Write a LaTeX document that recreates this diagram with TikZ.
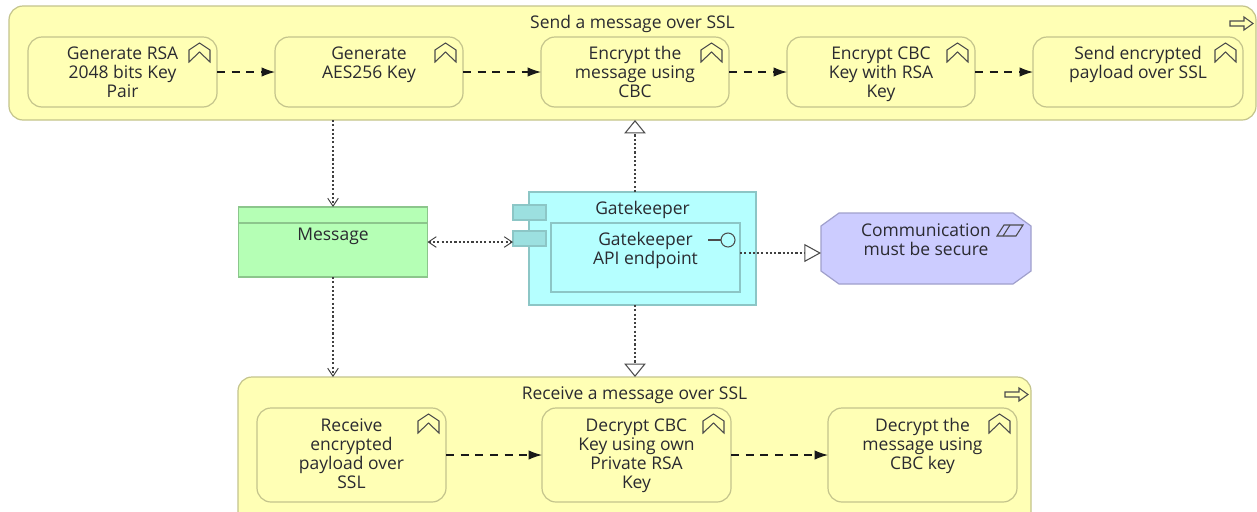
\documentclass[tikz,border=0pt]{standalone}
\usepackage{fontspec}
\setmainfont{Open Sans}
\usetikzlibrary{arrows.meta}
\definecolor{yfill}{HTML}{FFFFB5}
\definecolor{yline}{HTML}{C4C48C}
\definecolor{gfill}{HTML}{B5FFB5}
\definecolor{gline}{HTML}{8CC68C}
\definecolor{cfill}{HTML}{B5FFFF}
\definecolor{cline}{HTML}{8CC6C6}
\definecolor{tabfill}{HTML}{9CE0E0}
\definecolor{vfill}{HTML}{CCCCFF}
\definecolor{vline}{HTML}{A0A0CC}
\definecolor{ink}{HTML}{2A2A30}
\newcommand\lbl[4][16]{\parbox[c][\dimexpr #3pt*3/4\relax][t]{\dimexpr #2pt*3/4\relax}{\centering\fontsize{13.1pt}{14.25pt}\selectfont\color{ink}\rule{0pt}{\dimexpr (#1pt+6pt)*3/4\relax}#4\par}}
\tikzset{
  x=0.75pt,y=-0.75pt,
  base/.style={inner sep=0pt,outer sep=0pt,line width=0.9pt},
  outerbox/.style={base,draw=yline,fill=yfill,rounded corners=10.5pt},
  subbox/.style={base,draw=yline,fill=yfill,rounded corners=10.5pt},
  msgbox/.style={base,draw=gline,fill=gfill},
  compbox/.style={base,draw=cline,fill=cfill},
  tabbox/.style={base,draw=cline,fill=tabfill,minimum width=24.75pt,minimum height=11.25pt},
  textonly/.style={inner sep=0pt,outer sep=0pt},
  goalshape/.style={draw=vline,fill=vfill,line width=0.9pt},
  flow/.style={line width=0.85pt,draw=black!90,dash pattern=on 6pt off 5pt,-{Latex[length=10pt,width=7pt]}},
  dotline/.style={line width=0.8pt,draw=black!75,dash pattern=on 1.6pt off 1.6pt},
  barb/.style={dotline,-{Straight Barb[length=6pt,width=8pt,line width=0.7pt]}},
  barbboth/.style={dotline,{Straight Barb[length=6pt,width=8pt,line width=0.7pt]}-{Straight Barb[length=6pt,width=8pt,line width=0.7pt]}},
  tri/.style={dotline,-{Triangle[open,fill=white,length=10pt,width=16pt,line width=0.8pt,color=black!70]}},
  triside/.style={dotline,-{Triangle[open,fill=white,length=12.5pt,width=13.5pt,line width=0.8pt,color=black!70]}},
  icon/.style={draw=black!70,line width=0.8pt,fill=none,line join=miter},
  chev/.pic={\draw[icon] (-28,25) -- (-28,13) -- (-17.5,6) -- (-7,13) -- (-7,25) -- (-17.5,15) -- cycle;},
  procarrow/.pic={\draw[icon] (0,4) -- (14,4) -- (14,0) -- (23,6.5) -- (14,13) -- (14,9) -- (0,9) -- cycle;}
}
\begin{document}
\begin{tikzpicture}
\clip (0,0) rectangle (1257,511);
\fill[white] (0,0) rectangle (1257,511);
% top process
\node[outerbox] (send) at (632.5,63) {\lbl{1247}{114}{Send a message over SSL}};
\node[subbox] (s1) at (122.5,72) {\lbl{189}{70}{Generate RSA\\2048 bits Key\\Pair}};
\node[subbox] (s2) at (369,72) {\lbl{188}{70}{Generate\\AES256 Key}};
\node[subbox] (s3) at (635,72) {\lbl{188}{70}{Encrypt the\\message using\\CBC}};
\node[subbox] (s4) at (881,72) {\lbl{188}{70}{Encrypt CBC\\Key with RSA\\Key}};
\node[subbox] (s5) at (1138,72) {\lbl{210}{70}{Send encrypted\\payload over SSL}};
\foreach \n in {s1,s2,s3,s4,s5}{\pic at (\n.north east) {chev};}
\pic at (1230,17) {procarrow};
\draw[flow] (s1) -- (s2);
\draw[flow] (s2) -- (s3);
\draw[flow] (s3) -- (s4);
\draw[flow] (s4) -- (s5);
% bottom process
\node[outerbox] (recv) at (634.5,453.5) {\lbl{793}{153}{Receive a message over SSL}};
\node[subbox] (r1) at (351.5,455) {\lbl[17]{189}{94}{Receive\\encrypted\\payload over\\SSL}};
\node[subbox] (r2) at (636.5,455) {\lbl[17]{189}{94}{Decrypt CBC\\Key using own\\Private RSA\\Key}};
\node[subbox] (r3) at (922.5,455) {\lbl[17]{189}{94}{Decrypt the\\message using\\CBC key}};
\foreach \n in {r1,r2,r3}{\pic at (\n.north east) {chev};}
\pic at (1005,388) {procarrow};
\draw[flow] (r1) -- (r2);
\draw[flow] (r2) -- (r3);
% message
\node[msgbox] (msg) at (333,242) {\lbl[27]{189}{70}{Message}};
\draw[gline,line width=0.9pt] ([yshift=-12pt]msg.north west) -- ([yshift=-12pt]msg.north east);
% component
\node[compbox] (gk) at (642.5,248.5) {\lbl{227}{113}{Gatekeeper}};
\node[tabbox] (t1) at (529.5,212.5) {};
\node[tabbox] (t2) at (529.5,238.5) {};
\node[compbox] (api) at (645.5,257.5) {\lbl{189}{69}{Gatekeeper\\API endpoint}};
\draw[icon] (728,240) circle[radius=7];
\draw[icon] (708,240) -- (721,240);
% goal
\coordinate (gc) at (926,248.5);
\draw[goalshape] ([shift={(-87,-35.5)}]gc) -- ([shift={(87,-35.5)}]gc) -- ([shift={(105,-22.5)}]gc) -- ([shift={(105,22.5)}]gc) -- ([shift={(87,35.5)}]gc) -- ([shift={(-87,35.5)}]gc) -- ([shift={(-105,22.5)}]gc) -- ([shift={(-105,-22.5)}]gc) -- cycle;
\node[textonly] (goal) at (gc) {\lbl[17]{210}{71}{Communication\\must be secure}};
\draw[icon] (997,236) -- (1004,225) -- (1023,225) -- (1016,236) -- cycle;
\draw[icon] (1003,236) -- (1010,225);
% relations
\draw[barb] (msg.north |- send.south) -- (msg.north);
\draw[barb] (msg.south) -- (msg.south |- recv.north);
\draw[tri] (s3.south |- gk.north) -- (s3.south |- send.south);
\draw[tri] (s3.south |- gk.south) -- (s3.south |- recv.north);
\draw[barbboth] (msg.east) -- (msg.east -| t2.west);
\coordinate (rel) at (740,253);
\draw[triside] (rel) -- (rel -| goal.west);
\end{tikzpicture}
\end{document}
